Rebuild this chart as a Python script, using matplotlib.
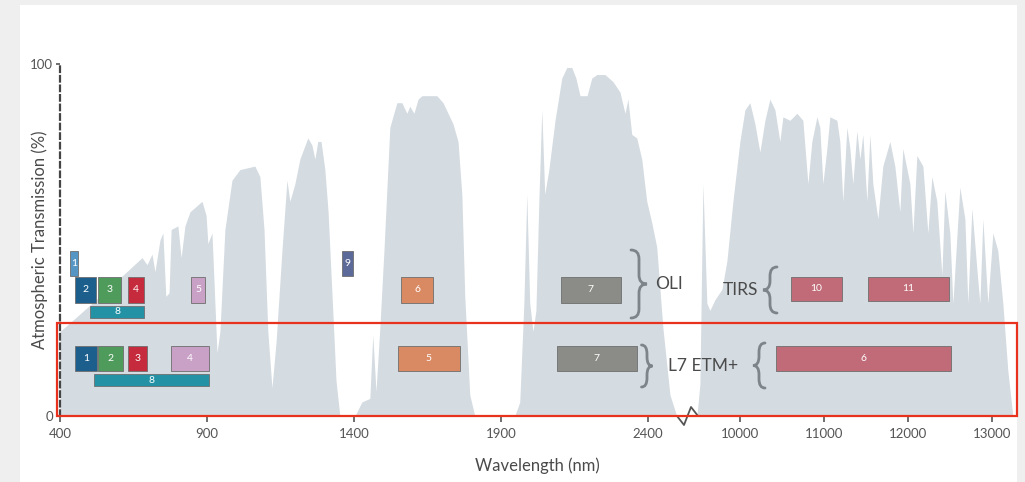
import numpy as np
import matplotlib.pyplot as plt
from matplotlib.patches import Rectangle, PathPatch
from matplotlib.path import Path
from matplotlib.lines import Line2D
from matplotlib.transforms import Affine2D

plt.rcParams['font.family'] = ['Lato', 'DejaVu Sans']

# -----------------------------
# Data: atmospheric transmission (wavelength nm, %)
# -----------------------------

wl_vnir = [400, 536, 679, 696, 713, 723, 740, 750, 760, 771,
           778, 801, 812, 825, 842, 883, 897, 903, 917, 927,
           934, 944, 961, 985, 1012, 1063, 1080, 1094, 1107, 1121,
           1135, 1155, 1172, 1182, 1199, 1216, 1243, 1257, 1267, 1277,
           1288, 1301, 1312, 1325, 1339, 1352, 1403, 1427, 1454, 1464,
           1475, 1488, 1502, 1522, 1546, 1563, 1580, 1590, 1604, 1618,
           1631, 1658, 1682, 1703, 1737, 1754, 1767, 1777, 1794, 1811,
           1947, 1964, 1978, 1988, 1998, 2009, 2019, 2029, 2039, 2049,
           2063, 2084, 2107, 2124, 2141, 2155, 2169, 2193, 2209, 2226,
           2254, 2281, 2305, 2322, 2332, 2345, 2362, 2379, 2396, 2413,
           2430, 2451, 2475, 2498]
tr_vnir = [24, 34, 45, 43, 46, 41, 50, 52, 34, 35,
           53, 54, 45, 54, 58, 61, 57, 49, 52, 32,
           18, 24, 53, 67, 70, 71, 68, 53, 24, 8,
           21, 47, 67, 61, 66, 73, 79, 77, 73, 78,
           78, 70, 58, 35, 10, 0, 0, 4, 5, 23,
           7, 25, 47, 82, 89, 89, 86, 88, 86, 90,
           91, 91, 91, 89, 83, 78, 63, 34, 6, 0,
           0, 4, 32, 63, 32, 24, 30, 61, 87, 63,
           70, 84, 96, 99, 99, 96, 91, 91, 96, 97,
           97, 95, 92, 86, 90, 80, 79, 73, 61, 55,
           48, 25, 6, 0]

wl_tir = [9488, 9524, 9560, 9607, 9643, 9702, 9786, 9845, 9917, 10000,
          10060, 10119, 10179, 10238, 10298, 10357, 10417, 10476, 10512, 10595,
          10679, 10750, 10810, 10857, 10917, 10952, 10988, 11036, 11071, 11155,
          11190, 11226, 11274, 11310, 11345, 11393, 11429, 11464, 11512, 11548,
          11583, 11643, 11702, 11786, 11845, 11905, 11940, 12024, 12060, 12107,
          12179, 12238, 12286, 12345, 12405, 12440, 12500, 12536, 12619, 12679,
          12714, 12762, 12821, 12857, 12893, 12952, 13012, 13071, 13131, 13190,
          13250]
tr_tir = [0, 9, 66, 32, 30, 33, 36, 44, 61, 78,
          87, 89, 83, 75, 84, 90, 87, 78, 85, 84,
          86, 84, 66, 78, 85, 82, 66, 76, 85, 84,
          78, 61, 82, 76, 66, 81, 73, 80, 61, 80,
          66, 56, 71, 78, 71, 58, 76, 66, 52, 74,
          71, 52, 68, 61, 40, 64, 52, 32, 65, 56,
          32, 59, 42, 32, 56, 32, 52, 47, 32, 13,
          0]

# -----------------------------
# Data: sensor bands (nm)
# -----------------------------

oli_bands = ['1', '2', '3', '4', '5', '6', '7', '8', '9']
oli_lo = [434, 451, 529, 631, 846, 1560, 2104, 502, 1359]
oli_hi = [461, 522, 607, 686, 893, 1669, 2308, 686, 1397]

tirs_bands = ['10', '11']
tirs_lo = [10607, 11524]
tirs_hi = [11214, 12488]

etm_bands = ['1', '2', '3', '4', '5', '6', '7', '8']
etm_lo = [451, 529, 631, 778, 1550, 10429, 2090, 516]
etm_hi = [526, 614, 696, 907, 1760, 12512, 2362, 907]

x_ticks = [400, 900, 1400, 1900, 2400, 10000, 11000, 12000, 13000]

# -----------------------------
# Styles
# -----------------------------

FILL = '#d4dbe1'
TXT = '#4a4a4a'
oli_colors = {'1': '#5596c4', '2': '#1c5f8c', '3': '#4f9b5c', '4': '#c62a3d',
              '5': '#c9a1c6', '6': '#da8a63', '7': '#8b8c87', '8': '#2392a5',
              '9': '#5b6a99'}
etm_colors = {'1': '#1c5f8c', '2': '#4f9b5c', '3': '#c62a3d', '4': '#c9a1c6',
              '5': '#da8a63', '6': '#c06b77', '7': '#8b8c87', '8': '#2392a5'}
TIRS_COLOR = '#c06b77'

# rows (bottom, top) in %
oli_rows = {'1': (39.8, 46.9), '9': (39.8, 46.9), '8': (27.8, 31.3)}
OLI_ROW = (32.2, 39.4)
TIRS_ROW = (32.7, 39.5)
ETM_ROW = (12.8, 19.9)
ETM8_ROW = (8.5, 11.9)

# -----------------------------
# Broken wavelength scale
# -----------------------------

BRK_L, BRK_R = 2540.0, 9420.0
S_L, S_R = 0.294, 0.084
U_L = (BRK_L - 400) * S_L
U_R = U_L + 2.1


def fwd(w):
    w = np.asarray(w, dtype=float)
    return np.where(w <= BRK_L, (w - 400) * S_L,
                    np.where(w >= BRK_R, U_R + (w - BRK_R) * S_R,
                             U_L + (w - BRK_L) * (U_R - U_L) / (BRK_R - BRK_L)))


def inv(u):
    u = np.asarray(u, dtype=float)
    return np.where(u <= U_L, 400 + u / S_L,
                    np.where(u >= U_R, BRK_R + (u - U_R) / S_R,
                             BRK_L + (u - U_L) * (BRK_R - BRK_L) / (U_R - U_L)))


W, H = 1025, 482
fig = plt.figure(figsize=(W / 100, H / 100), dpi=100, facecolor='#efefef')
px = Affine2D().scale(1 / W, -1 / H).translate(0, 1) + fig.transFigure

fig.patches.append(Rectangle((20, 5), 997, 477, transform=px,
                             facecolor='white', edgecolor='none', zorder=-10))

ax = fig.add_axes([60 / W, 66 / H, 952 / W, 352 / H])
ax.set_facecolor('none')
ax.set_xscale('function', functions=(fwd, inv))
ax.set_xlim(400, 13240)
ax.set_ylim(0, 100)

wl_all = wl_vnir + wl_tir
tr_all = tr_vnir + tr_tir
ax.fill_between(wl_all, 0, tr_all, color=FILL, linewidth=0, zorder=1)


def draw_band(lo, hi, row, color, label):
    ax.add_patch(Rectangle((lo, row[0]), hi - lo, row[1] - row[0],
                           facecolor=color, edgecolor='#6e6e6e',
                           linewidth=0.6, zorder=3))
    xm = inv((fwd(lo) + fwd(hi)) / 2)
    ax.text(xm, (row[0] + row[1]) / 2, label, color='white', fontsize=7.5,
            ha='center', va='center', zorder=4)


for b, lo, hi in zip(oli_bands, oli_lo, oli_hi):
    draw_band(lo, hi, oli_rows.get(b, OLI_ROW), oli_colors[b], b)
for b, lo, hi in zip(tirs_bands, tirs_lo, tirs_hi):
    draw_band(lo, hi, TIRS_ROW, TIRS_COLOR, b)
for b, lo, hi in zip(etm_bands, etm_lo, etm_hi):
    draw_band(lo, hi, ETM8_ROW if b == '8' else ETM_ROW, etm_colors[b], b)

# axes styling
for s in ['top', 'right', 'bottom']:
    ax.spines[s].set_visible(False)
ax.spines['left'].set_linestyle((0, (2.5, 1.8)))
ax.spines['left'].set_color('#444444')
ax.spines['left'].set_linewidth(1.6)

ax.set_xticks(x_ticks)
ax.set_xticklabels([str(t) for t in x_ticks])
ax.set_yticks([0, 100])
ax.set_yticklabels(['0', '100'])
ax.tick_params(axis='x', direction='out', length=4, width=1.2, color='#555555',
               labelsize=9.5, labelcolor='#555555', pad=5)
ax.tick_params(axis='y', direction='out', length=3, width=1.2, color='#555555',
               labelsize=9.5, labelcolor='#555555', pad=2)

# bottom axis with break mark (pixel coords)
fig.add_artist(Line2D([60, 677, 684, 691, 698, 1012],
                      [416, 416, 425, 407, 416, 416],
                      transform=px, color='#555555', linewidth=1.3))

fig.text(40 / W, 1 - 240 / H, 'Atmospheric Transmission (%)', rotation=90,
         ha='center', va='center', fontsize=12, color=TXT)
fig.text(537 / W, 1 - 466 / H, 'Wavelength (nm)', ha='center', va='center',
         fontsize=12, color=TXT)


# -----------------------------
# Braces and sensor labels
# -----------------------------

def brace(cx, top, bot, w, side):
    cy = (top + bot) / 2
    q = min(9, (bot - top) / 4)
    xb = cx - side * w / 2
    xt = cx + side * w / 2
    verts = [(xb, top), (cx, top), (cx, top + q),
             (cx, cy - q),
             (cx, cy), (xt, cy),
             (cx, cy), (cx, cy + q),
             (cx, bot - q),
             (cx, bot), (xb, bot)]
    codes = [Path.MOVETO, Path.CURVE3, Path.CURVE3,
             Path.LINETO,
             Path.CURVE3, Path.CURVE3,
             Path.CURVE3, Path.CURVE3,
             Path.LINETO,
             Path.CURVE3, Path.CURVE3]
    fig.patches.append(PathPatch(Path(verts, codes), transform=px,
                                 facecolor='none', edgecolor='#7d848a',
                                 linewidth=2.0, capstyle='round'))


brace(639, 250, 318, 16, 1)
brace(647, 345, 387, 11, 1)
brace(770, 267, 313, 14, -1)
brace(759, 343, 388, 12, -1)

fig.text(655 / W, 1 - 284 / H, 'OLI', ha='left', va='center',
         fontsize=12.5, color=TXT)
fig.text(668 / W, 1 - 366 / H, 'L7 ETM+', ha='left', va='center',
         fontsize=12.5, color=TXT)
fig.text(758 / W, 1 - 290 / H, 'TIRS', ha='right', va='center',
         fontsize=12.5, color=TXT)

# red highlight frame
fig.patches.append(Rectangle((57, 323), 960, 93, transform=px,
                             facecolor='none', edgecolor='#e8321e',
                             linewidth=1.6, zorder=20))

fig.savefig('out.png', dpi=100, facecolor=fig.get_facecolor())
